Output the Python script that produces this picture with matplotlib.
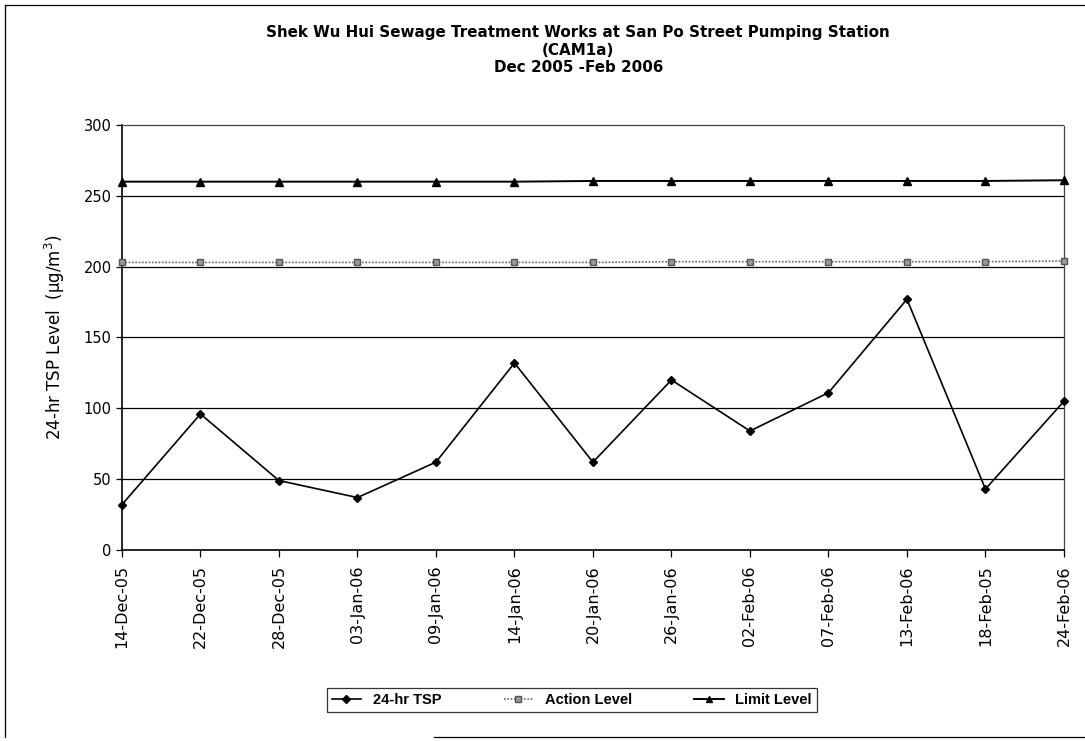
import numpy as np
import matplotlib.pyplot as plt
from matplotlib.lines import Line2D

plt.rcParams['font.family'] = ['DejaVu Sans']

# данные с графика
dates = ["14-Dec-05", "22-Dec-05", "28-Dec-05", "03-Jan-06", "09-Jan-06",
         "14-Jan-06", "20-Jan-06", "26-Jan-06", "02-Feb-06", "07-Feb-06",
         "13-Feb-06", "18-Feb-05", "24-Feb-06"]
tsp = [32, 96, 49, 37, 62, 132, 62, 120, 84, 111, 177, 43, 105]
action_level = [203, 203, 203, 203, 203, 203, 203, 203.5, 203.5, 203.5, 203.5, 203.5, 204]
limit_level = [260, 260, 260, 260, 260, 260, 260.5, 260.5, 260.5, 260.5, 260.5, 260.5, 261]

x = np.arange(len(dates))

fig = plt.figure(figsize=(10.85, 7.41), dpi=100)
ax = fig.add_axes([0.1124, 0.2578, 0.8682, 0.5735])

# горизонтальная сетка
for yv in [50, 100, 150, 200, 250]:
    ax.axhline(yv, color="black", lw=0.9, zorder=1)

ax.plot(x, limit_level, color="black", lw=1.4, marker="^", ms=6,
        label="Limit Level", zorder=3, clip_on=False)
ax.plot(x, action_level, color="#666666", lw=1.2, ls=(0, (1, 1)), marker="s", ms=5,
        markerfacecolor="#999999", markeredgecolor="#555555", label="Action Level",
        zorder=3, clip_on=False)
ax.plot(x, tsp, color="black", lw=1.2, marker="D", ms=4.5, label="24-hr TSP",
        zorder=4, clip_on=False)

ax.set_xlim(0, len(dates) - 1)
ax.set_ylim(0, 300)
ax.set_yticks(np.arange(0, 301, 50))
ax.set_xticks(x)
ax.set_xticklabels(dates, rotation=90, fontsize=11.5)
ax.tick_params(axis="y", labelsize=10.5, direction="out", length=4, width=0.9)
ax.tick_params(axis="x", direction="out", length=5, width=0.9, pad=6)

for s in ["top", "right"]:
    ax.spines[s].set_linestyle((0, (1, 1)))
    ax.spines[s].set_color("#444444")
    ax.spines[s].set_linewidth(0.9)
for s in ["left", "bottom"]:
    ax.spines[s].set_linewidth(1.2)

ax.set_ylabel("24-hr TSP Level  (\u03bcg/m$^3$)", fontsize=12, labelpad=12)

fig.text(0.533, 0.966, "Shek Wu Hui Sewage Treatment Works at San Po Street Pumping Station\n(CAM1a)\nDec 2005 -Feb 2006",
         ha="center", va="top", fontsize=10.9, fontweight="bold", linespacing=1.22)

handles = [
    Line2D([], [], color="black", lw=1.2, marker="D", ms=4),
    Line2D([], [], color="#666666", lw=1.2, ls=(0, (1, 1)), marker="s", ms=4,
           markerfacecolor="#999999", markeredgecolor="#555555"),
    Line2D([], [], color="black", lw=1.4, marker="^", ms=5),
]
leg = fig.legend(handles, ["24-hr TSP", "Action Level", "Limit Level"],
                 loc="center", bbox_to_anchor=(0.527, 0.055), ncol=3,
                 frameon=True, fancybox=False, handlelength=2.0,
                 columnspacing=4.3, borderpad=0.35,
                 prop={"family": "Liberation Sans", "size": 10.5, "weight": "bold"})
leg.get_frame().set_edgecolor("black")
leg.get_frame().set_linewidth(0.9)

# рамка вокруг всей диаграммы
fig.add_artist(Line2D([0.005, 0.005], [0.005, 0.993], color="black", lw=0.9))
fig.add_artist(Line2D([0.005, 1.0], [0.993, 0.993], color="black", lw=0.9))
fig.add_artist(Line2D([0.40, 1.0], [0.005, 0.005], color="black", lw=0.9))

fig.savefig("out.png", dpi=100)
